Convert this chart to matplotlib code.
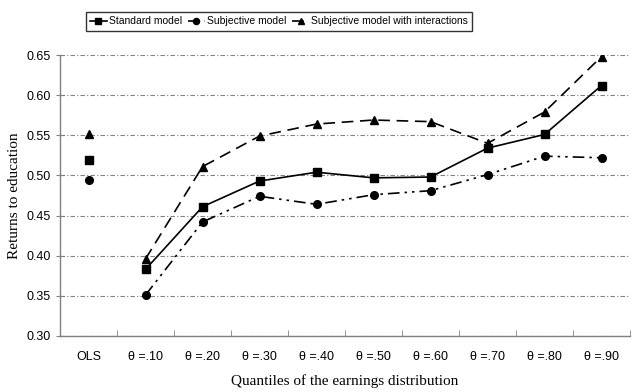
import matplotlib.pyplot as plt
import numpy as np

# --- Données ---
categories = ["OLS", "θ =.10", "θ =.20", "θ =.30", "θ =.40", "θ =.50",
              "θ =.60", "θ =.70", "θ =.80", "θ =.90"]
standard = [0.519, 0.383, 0.461, 0.493, 0.504, 0.497, 0.498, 0.534, 0.551, 0.612]
subjective = [0.494, 0.351, 0.442, 0.474, 0.464, 0.476, 0.481, 0.501, 0.524, 0.522]
interactions = [0.552, 0.396, 0.511, 0.549, 0.564, 0.569, 0.567, 0.540, 0.579, 0.648]
y_ticks = [0.30, 0.35, 0.40, 0.45, 0.50, 0.55, 0.60, 0.65]

plt.rcParams["font.family"] = "Liberation Sans"

fig = plt.figure(figsize=(6.34, 3.92), dpi=100)
ax = fig.add_axes([60 / 634, 1 - 336 / 392, 570 / 634, 281 / 392])

x = np.arange(len(categories))
series = [
    ("Standard model", standard, "s", "-"),
    ("Subjective model", subjective, "o", (0, (7, 3, 1.5, 3, 1.5, 3))),
    ("Subjective model with interactions", interactions, "^", (0, (7, 4))),
]

handles = []
for name, vals, mk, ls in series:
    # OLS : point isolé, les quantiles sont reliés
    ax.plot(x[:1], vals[:1], marker=mk, linestyle="none", color="black", markersize=5.5)
    h, = ax.plot(x[1:], vals[1:], marker=mk, linestyle=ls, color="black",
                 linewidth=1.2, markersize=5.5)
    handles.append(h)

ax.set_xlim(-0.5, len(categories) - 0.5)
ax.set_ylim(0.30, 0.65)
ax.set_yticks(y_ticks)
ax.set_yticklabels([f"{v:.2f}" for v in y_ticks], fontsize=9)
ax.set_xticks(x)
ax.set_xticklabels(categories, fontsize=9)
ax.set_xticks(np.arange(len(categories) + 1) - 0.5, minor=True)
ax.tick_params(axis="x", which="major", length=0, pad=11)
ax.tick_params(axis="x", which="minor", length=4, direction="in", color="#808080")
ax.tick_params(axis="y", length=6, direction="inout", color="#808080")

for s in ["top", "right"]:
    ax.spines[s].set_visible(False)
for s in ["left", "bottom"]:
    ax.spines[s].set_color("#808080")
    ax.spines[s].set_linewidth(1.0)

ax.yaxis.grid(True, color="#808080", linestyle=(0, (4, 2, 1, 2)), linewidth=0.8)
ax.set_axisbelow(True)

ax.set_ylabel("Returns to education", family="Liberation Serif", fontsize=11)
ax.set_xlabel("Quantiles of the earnings distribution", family="Liberation Serif",
              fontsize=11, labelpad=8)

fig.legend(handles=handles, labels=[s[0] for s in series], loc="upper center",
           bbox_to_anchor=(279 / 634, 1 - 7 / 392), ncol=3, fontsize=7.5,
           frameon=True, fancybox=False, edgecolor="black", handlelength=1.6,
           handletextpad=0.2, columnspacing=0.6, borderpad=0.4, markerscale=0.8)

fig.savefig("out.png", dpi=100)
